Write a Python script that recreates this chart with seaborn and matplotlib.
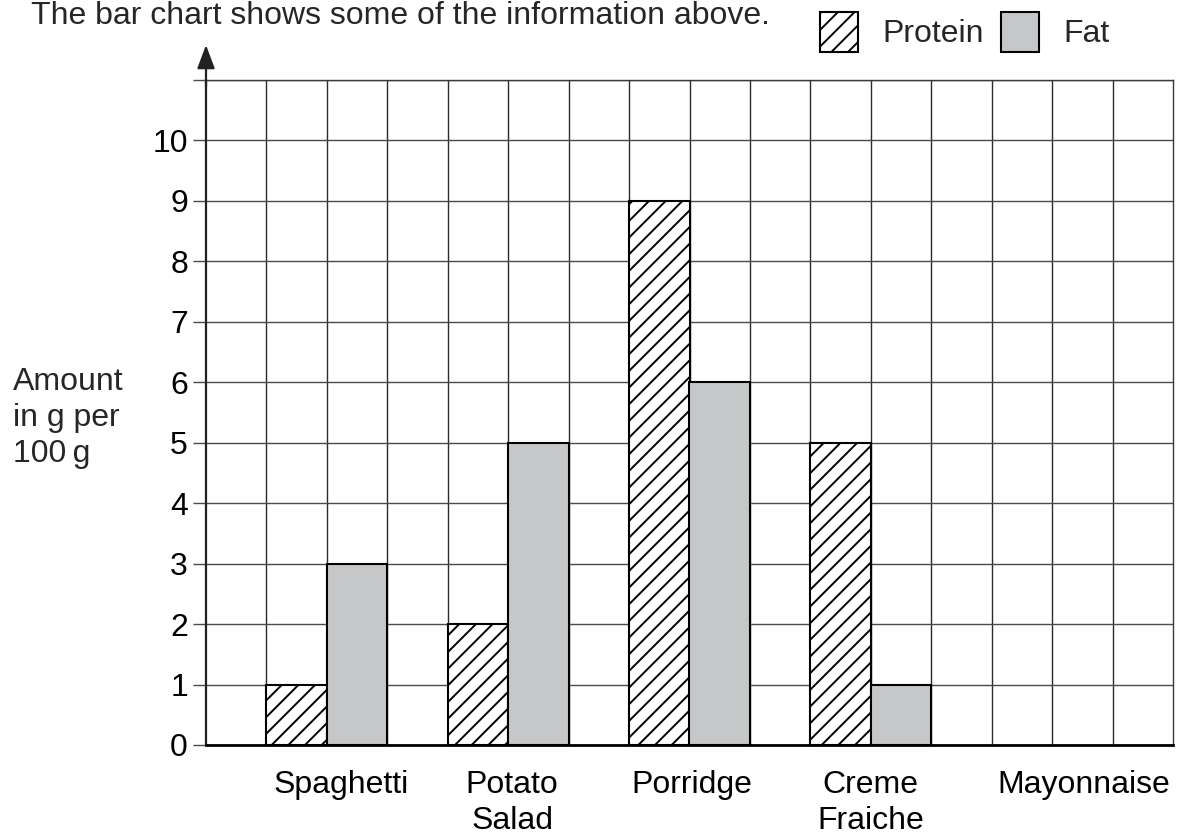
import matplotlib
import matplotlib.pyplot as plt
import matplotlib.patches as mpatches
import matplotlib.transforms as mtransforms
import numpy as np
import pandas as pd
import seaborn as sns

matplotlib.rcParams['figure.dpi'] = 100

foods = ["Spaghetti", "Potato\nSalad", "Porridge", "Creme\nFraiche", "Mayonnaise"]
protein = [1, 2, 9, 5, np.nan]
fat = [3, 5, 6, 1, np.nan]
nutrients = ["Protein", "Fat"]
y_ticks = list(range(0, 12))
y_tick_labels = [str(v) for v in range(0, 11)] + [""]

# small horizontal nudges (px) the original print gives some category labels
label_nudge_px = [14, 4, 2, 0, 32]

FS = 23


def main():
    df = pd.DataFrame({"Food": foods * 2,
                       "Nutrient": ["Protein"] * len(foods) + ["Fat"] * len(foods),
                       "Amount": protein + fat}).dropna()

    sns.set_style("white")
    plt.rcParams['font.family'] = ['Liberation Sans', 'DejaVu Sans']
    plt.rcParams['hatch.linewidth'] = 1.4

    W, H = 1179, 835
    fig = plt.figure(figsize=(W / 100, H / 100))
    ax = fig.add_axes([206 / W, 90 / H, (1173 - 206) / W, (745 - 80) / H])

    sns.barplot(data=df, x="Food", y="Amount", hue="Nutrient", order=foods,
                hue_order=nutrients, palette={"Protein": "white", "Fat": "#c6c7c9"},
                width=2 / 3, edgecolor="black", linewidth=1.5, legend=False,
                errorbar=None, ax=ax, zorder=3)

    for bar in ax.containers[0]:
        bar.set_hatch("//")
        bar.set_facecolor("white")

    ax.set_xlim(-2 / 3, 14 / 3)
    ax.set_ylim(0, 11)

    # square grid: one column per third of a category slot
    ax.set_xticks([(k - 2) / 3 for k in range(1, 16)], minor=True)
    ax.set_yticks(y_ticks)
    ax.set_yticklabels(y_tick_labels)
    ax.set_axisbelow(True)
    ax.grid(True, which="both", axis="x", color="#2a2a2a", linewidth=1.0)
    ax.grid(True, which="major", axis="y", color="#4a4a4a", linewidth=1.0)

    for side in ["top", "right"]:
        ax.spines[side].set_color("#3a3a3a")
        ax.spines[side].set_linewidth(1.0)
    ax.spines["bottom"].set_color("black")
    ax.spines["bottom"].set_linewidth(2.0)
    ax.spines["left"].set_color("#222222")
    ax.spines["left"].set_linewidth(1.6)

    ax.tick_params(axis="y", which="major", direction="out", length=9.5, width=1.0,
                   color="#4a4a4a", pad=3.5, labelsize=FS, labelcolor="black", left=True)
    ax.tick_params(axis="x", which="both", length=0, pad=18, labelsize=FS, labelcolor="black")
    ax.set_xlabel("")
    ax.set_ylabel("")

    for lbl, dx in zip(ax.get_xticklabels(), label_nudge_px):
        lbl.set_multialignment("center")
        lbl.set_linespacing(1.25)
        lbl.set_transform(lbl.get_transform() + mtransforms.ScaledTranslation(dx / 100, 0, fig.dpi_scale_trans))

    # y axis arrow
    ax.annotate("", xy=(0, 1.0526), xytext=(0, 0.99), xycoords="axes fraction",
                arrowprops=dict(arrowstyle="-|>,head_length=0.8,head_width=0.3",
                                mutation_scale=18, lw=1.6, color="#222222",
                                shrinkA=0, shrinkB=0),
                annotation_clip=False)

    fig.text(13 / W, 1 - 462 / H, "Amount\nin g per\n100\u2009g", fontsize=FS,
             ha="left", va="baseline", linespacing=1.25)
    fig.text(31 / W, 1 - 1 / H, "The bar chart shows some of the information above.",
             fontsize=FS, ha="left", va="top")

    handles = [mpatches.Patch(facecolor="white", edgecolor="black", hatch="//", linewidth=1.5),
               mpatches.Patch(facecolor="#c6c7c9", edgecolor="black", linewidth=1.5)]
    fig.legend(handles, nutrients, loc="upper left", bbox_to_anchor=(820 / W, 1 - 12 / H),
               ncol=2, frameon=False, fontsize=FS, handlelength=1.19, handleheight=1.54,
               handletextpad=0.75, columnspacing=0.56, borderpad=0, borderaxespad=0)

    fig.savefig("out.png", dpi=100)


if __name__ == '__main__':
    main()
